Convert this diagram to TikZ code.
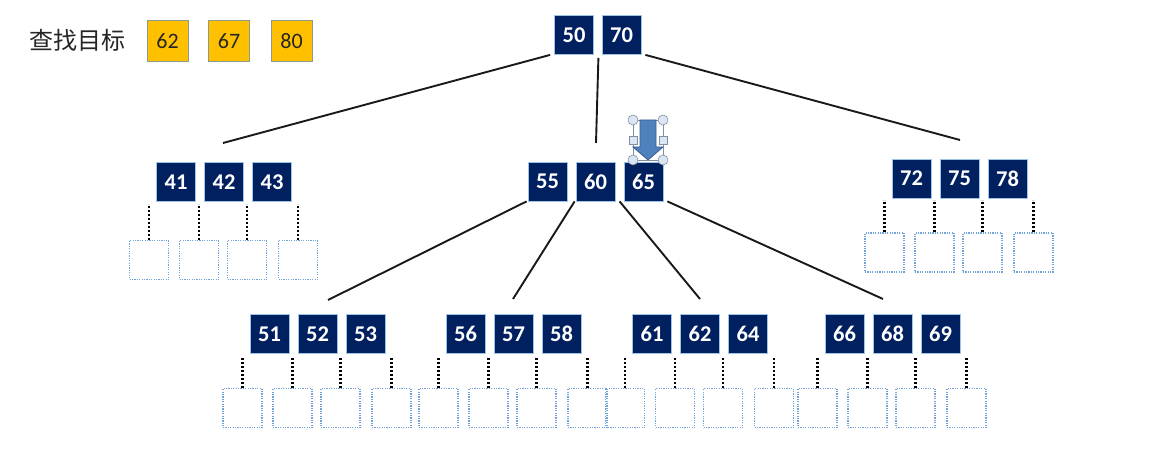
\documentclass[tikz,border=0pt]{standalone}
\usepackage{fontspec}
\setmainfont{Carlito}
\newfontfamily\cjk{Noto Sans CJK SC}
\definecolor{navy}{HTML}{002060}
\definecolor{keyedge}{HTML}{9DC3E6}
\definecolor{gold}{HTML}{FFC000}
\definecolor{tgtedge}{HTML}{8A9A8C}
\definecolor{leafblue}{HTML}{6FA3DA}
\definecolor{arrowfill}{HTML}{4F81BD}
\definecolor{arrowedge}{HTML}{385D8A}
\definecolor{handlefill}{HTML}{DCE6F2}
\definecolor{handleedge}{HTML}{7F8FA6}
\tikzset{
  keybox/.style={draw=keyedge, line width=0.8pt, fill=navy, text=white,
    font=\bfseries\fontsize{22.5}{22.5}\selectfont, minimum size=39pt, inner sep=0pt},
  tgtbox/.style={draw=tgtedge, line width=1pt, fill=gold, text=black!85,
    font=\fontsize{22}{22}\selectfont, minimum size=41pt, inner sep=0pt},
  leafbox/.style={draw=leafblue, dash pattern=on 1.2pt off 1.2pt, line width=1.2pt, minimum size=39pt, inner sep=0pt},
  treeedge/.style={line width=1.9pt, black!90},
  dotline/.style={line width=2.4pt, dash pattern=on 2.2pt off 1.8pt, black},
  handle/.style={fill=handlefill, draw=handleedge, line width=0.6pt}
}
\newcommand\keygroup[6]{%
  \node[keybox] (#1a) at (#2-48,#3) {#4};
  \node[keybox] (#1b) at (#2,#3) {#5};
  \node[keybox] (#1c) at (#2+48,#3) {#6};}
\newcommand\leafrow[4]{%
  \node[leafbox] (#1l1) at (#2-75,#3) {};
  \node[leafbox] (#1l2) at (#2-25,#3) {};
  \node[leafbox] (#1l3) at (#2+23,#3) {};
  \node[leafbox] (#1l4) at (#2+74,#3) {};
  \draw[dotline] (#1l1.north) -- +(0,-#4);
  \draw[dotline] (#1l2.north) -- +(0,-#4);
  \draw[dotline] (#1l3.north) -- +(0,-#4);
  \draw[dotline] (#1l4.north) -- +(0,-#4);}
\begin{document}
\begin{tikzpicture}[x=1pt,y=-1pt]
\useasboundingbox[fill=white] (0,0) rectangle (1157,449);

% search targets
\node[font=\cjk\fontsize{24}{24}\selectfont, text=black!85] (title) at (77,40) {查找目标};
\node[tgtbox] (t62) at (167.5,41) {62};
\node[tgtbox] (t67) at (229,41) {67};
\node[tgtbox] (t80) at (291.5,41) {80};

% root
\node[keybox] (r50) at (574,35) {50};
\node[keybox] (r70) at (621.5,35) {70};

% level 2
\keygroup{L}{224}{182}{41}{42}{43}
\keygroup{M}{595.5}{181.5}{55}{60}{65}
\keygroup{R}{959.5}{178.5}{72}{75}{78}

% level 3
\keygroup{A}{317.5}{334}{51}{52}{53}
\keygroup{B}{513.5}{334}{56}{57}{58}
\keygroup{C}{700}{334}{61}{62}{64}
\keygroup{D}{892.5}{334}{66}{68}{69}

% leaves
\leafrow{L}{224}{260}{36}
\leafrow{R}{959.5}{252.5}{32}
\leafrow{A}{317.5}{408}{31}
\leafrow{B}{513.5}{408}{31}
\leafrow{C}{700}{408}{31}
\leafrow{D}{892.5}{408}{31}

% tree edges
\coordinate (gL) at (223,143);
\coordinate (gM) at (596,143);
\coordinate (gR) at (960,140);
\draw[treeedge] ([shift={(-4,0)}]r50.south west) -- (gL);
\draw[treeedge] ([shift={(4.5,3)}]r50.south east) -- (gM);
\draw[treeedge] ([shift={(4,0)}]r70.south east) -- (gR);

\coordinate (gA) at (328,300);
\coordinate (gB) at (513,299);
\coordinate (gC) at (700,299);
\coordinate (gD) at (883,299);
\draw[treeedge] ([shift={(-1,0)}]Ma.south west) -- (gA);
\draw[treeedge] ([shift={(-1,0)}]Mb.south west) -- (gB);
\draw[treeedge] ([shift={(-4,0)}]Mc.south west) -- (gC);
\draw[treeedge] ([shift={(4,0)}]Mc.south east) -- (gD);

% selected block arrow
\draw[handleedge, line width=0.5pt] (633,120) rectangle (663,160);
\draw[fill=arrowfill, draw=arrowedge, line width=0.8pt]
  (640,120) -- (656,120) -- (656,147) -- (663,147) -- (648,160) -- (633,147) -- (640,147) -- cycle;
\foreach \px/\py in {633/120,663/120,633/160,663/160}
  \draw[handle] (\px,\py) circle (5pt);
\foreach \px in {633,663}
  \draw[handle] (\px-4,136) rectangle (\px+4,144);
\end{tikzpicture}
\end{document}
